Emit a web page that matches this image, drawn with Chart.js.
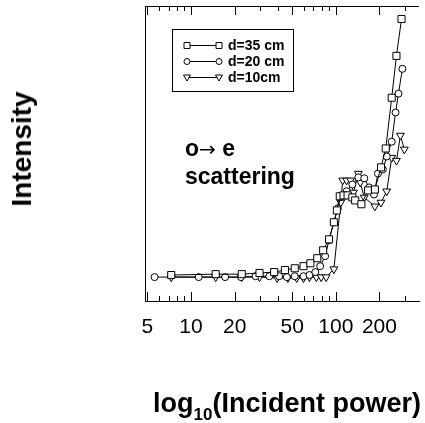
<!DOCTYPE html>
<html>
<head>
<meta charset="utf-8">
<script src="https://cdn.jsdelivr.net/npm/chart.js@4/dist/chart.umd.min.js"></script>
<style>
  html, body { margin: 0; padding: 0; background: #fff; }
  #wrap { position: relative; width: 425px; height: 423px; color: #000; }
  #chart { position: absolute; left: 0; top: 0; }
  .txt { position: absolute; white-space: nowrap; font-weight: bold; font-family: "Liberation Sans", Arial, sans-serif; }
  #ytitle { left: 22px; top: 149px; font-size: 28px; line-height: 28px; transform: translate(-50%, -50%) rotate(-90deg); }
  #xtitle { left: 153px; top: 390px; font-size: 27px; line-height: 27px; }
  #xtitle span { font-size: 17px; vertical-align: -8px; }
  .leg { left: 228px; font-size: 14px; line-height: 16px; }
  .note { left: 185px; font-size: 23px; line-height: 23px; }
  .arrow { font-family: "DejaVu Sans", sans-serif; font-weight: normal; font-size: 20px; }
</style>
</head>
<body>
<div id="wrap">
  <canvas id="chart" width="425" height="423"></canvas>
  <div class="txt" id="ytitle">Intensity</div>
  <div class="txt" id="xtitle">log<span>10</span>(Incident power)</div>
  <div class="txt leg" style="top:37px">d=35 cm</div>
  <div class="txt leg" style="top:53px">d=20 cm</div>
  <div class="txt leg" style="top:69px">d=10cm</div>
  <div class="txt note" style="top:137px">o<span class="arrow">&#8594;</span> e</div>
  <div class="txt note" style="top:165px">scattering</div>
</div>
<script>
// tick positions on the log axis, and which ones get a number
const powerTicks = [5, 6, 7, 8, 9, 10, 20, 30, 40, 50, 60, 70, 80, 90, 100, 200, 300];
const labelledTicks = [5, 10, 20, 50, 100, 200];

// d = 35 cm (squares)
const power35 = [7.3, 14.8, 22.4, 29.7, 37.5, 44.5, 52, 59.8, 66.7, 74.4, 81.7, 89.7, 96.9, 101.6, 106.4, 113, 120.5, 130, 136, 150, 167, 186, 205, 221, 243, 262, 284];
const intensity35 = [8.8, 9.1, 9.1, 9.5, 9.8, 10.5, 11.1, 11.8, 12.8, 14.5, 17.2, 20.9, 26.7, 30.7, 35.5, 35.8, 35.8, 35.1, 34.1, 32.8, 37.5, 37.8, 45.3, 51.7, 68.9, 83.1, 95.6];

// d = 20 cm (circles)
const power20 = [5.6, 11.3, 17.2, 22.1, 27.9, 34.7, 40.6, 45.9, 52, 59.8, 65.7, 72.1, 77.9, 84.3, 89.7, 96.9, 103.2, 108.1, 118.7, 130, 143, 157, 169.7, 183.4, 195.2, 211, 224.5, 243, 258.4, 270.6, 288];
const intensity20 = [8.1, 8.1, 8.1, 8.1, 8.4, 8.4, 8.4, 8.1, 8.4, 8.4, 8.8, 9.8, 11.8, 15.2, 20.6, 26.7, 31.4, 35.5, 37.2, 39.5, 41.9, 41.6, 38.5, 36.1, 43.2, 44.6, 49, 54, 63.9, 70.3, 78.7];

// d = 10 cm (down triangles)
const power10 = [7.3, 14.8, 22.4, 29.7, 39.3, 46.6, 53.7, 59.8, 65.7, 73.3, 79.2, 85.7, 96.9, 108.1, 111.5, 118.7, 126.3, 132.3, 143, 147.5, 157, 186, 205, 224.5, 243, 262, 279.2, 297];
const intensity10 = [8.1, 8.1, 8.1, 8.1, 7.8, 7.8, 7.8, 7.8, 8.1, 8.1, 8.1, 8.1, 10.8, 33.4, 40.9, 40.9, 40.9, 36.8, 43.2, 40.2, 35.1, 32.1, 33.4, 37.2, 48.6, 47.6, 56.1, 51.4];

const FONT = '"Liberation Sans", Arial, sans-serif';

const toPoints = (xs, ys) => xs.map((x, i) => ({ x: x, y: ys[i] }));

const makeSet = (label, xs, ys, style, radius, rotation) => ({
  label: label,
  data: toPoints(xs, ys),
  borderColor: '#000',
  borderWidth: 1,
  pointStyle: style,
  pointRadius: radius,
  pointRotation: rotation,
  pointBorderWidth: 1,
  pointBorderColor: '#000',
  pointBackgroundColor: '#fff'
});

const datasets = [
  makeSet('d=35 cm', power35, intensity35, 'rect', 5, 0),
  makeSet('d=20 cm', power20, intensity20, 'circle', 3.5, 0),
  makeSet('d=10cm', power10, intensity10, 'triangle', 4.5, 180)
];

const isMajor = v => labelledTicks.includes(v);

// small marker shapes for the legend box
const marker = (ctx, style, x, y) => {
  ctx.beginPath();
  if (style === 'rect') {
    ctx.rect(x - 3, y - 3, 6, 6);
  } else if (style === 'circle') {
    ctx.arc(x, y, 3, 0, Math.PI * 2);
  } else {
    ctx.moveTo(x - 3.5, y - 2.5);
    ctx.lineTo(x + 3.5, y - 2.5);
    ctx.lineTo(x, y + 3.5);
    ctx.closePath();
  }
  ctx.fillStyle = '#fff';
  ctx.fill();
  ctx.stroke();
};

// top frame line, inward ticks top and bottom, legend box
const frame = {
  id: 'frame',
  afterDraw(chart) {
    const ctx = chart.ctx;
    const xs = chart.scales.x;
    const area = chart.chartArea;
    ctx.save();
    ctx.strokeStyle = '#000';
    ctx.lineWidth = 1;

    ctx.beginPath();
    ctx.moveTo(area.left, area.top + 0.5);
    ctx.lineTo(area.right, area.top + 0.5);
    powerTicks.forEach(v => {
      const px = Math.round(xs.getPixelForValue(v)) + 0.5;
      const len = isMajor(v) ? 9 : 5;
      ctx.moveTo(px, area.top);
      ctx.lineTo(px, area.top + len);
      ctx.moveTo(px, area.bottom);
      ctx.lineTo(px, area.bottom - len);
    });
    ctx.stroke();

    ctx.strokeRect(172.5, 29.5, 121, 62);
    [45, 61, 77].forEach((row, i) => {
      const y = row + 0.5;
      ctx.beginPath();
      ctx.moveTo(187, y);
      ctx.lineTo(219, y);
      ctx.stroke();
      marker(ctx, chart.data.datasets[i].pointStyle, 187, y);
      marker(ctx, chart.data.datasets[i].pointStyle, 219, y);
    });
    ctx.restore();
  }
};

new Chart(document.getElementById('chart'), {
  type: 'line',
  data: { datasets: datasets },
  options: {
    responsive: false,
    animation: false,
    events: [],
    layout: { padding: { top: 5 } },
    plugins: { legend: { display: false }, tooltip: { enabled: false } },
    scales: {
      x: {
        type: 'logarithmic',
        min: 4.81,
        max: 375,
        afterBuildTicks: scale => { scale.ticks = powerTicks.map(v => ({ value: v })); },
        afterFit: scale => { scale.height = 122; },
        border: { display: true, color: '#000', width: 1 },
        grid: { display: false },
        ticks: {
          autoSkip: false,
          maxRotation: 0,
          padding: 6,
          color: '#000',
          font: { family: FONT, size: 21 },
          callback: v => isMajor(v) ? String(v) : ''
        }
      },
      y: {
        min: 0,
        max: 100,
        afterFit: scale => { scale.width = 145; },
        border: { display: true, color: '#000', width: 1 },
        grid: { display: false },
        ticks: { display: false }
      }
    }
  },
  plugins: [frame]
});
</script>
</body>
</html>
